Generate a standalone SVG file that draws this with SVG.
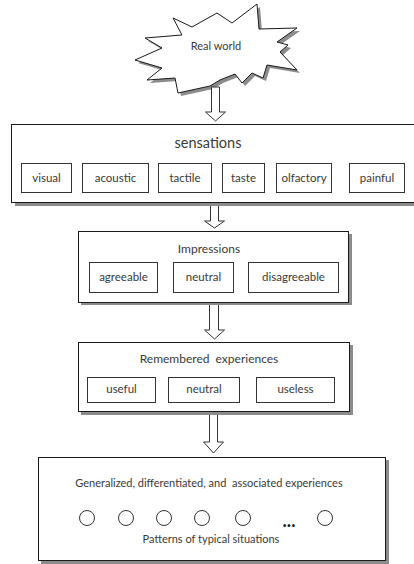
<svg xmlns="http://www.w3.org/2000/svg" width="414" height="564" viewBox="0 0 414 564">
  <defs>
    <style>
      .frame { fill: #ffffff; stroke: #1a1a1a; stroke-width: 1; }
      .shadow { fill: #8c8c8c; stroke: none; }
      .item { fill: #ffffff; stroke: #333333; stroke-width: 1; }
      .arrow { fill: #ffffff; stroke: #333333; stroke-width: 1; }
      .ring { fill: #ffffff; stroke: #333333; stroke-width: 1; }
      text { font-family: Lato, "Liberation Sans", sans-serif; fill: #3a3a3a; text-anchor: middle; white-space: pre; }
      .title { font-size: 14.5px; }
      .head { font-size: 12px; }
      .label { font-size: 11.5px; }
      .small { font-size: 11px; }
      .dots { font-size: 18px; font-weight: bold; fill: #222222; }
    </style>
    <polygon id="burst" points="257,4 259,29 297,28 277,42 288,45 280,52 297,70 267,65 263,78 252,73 242,83 235,74 220,80 210,86 178,93 175,78 147,80 162,68 135,60 162,48 145,38 182,35 173,18 192,27 217,13 232,23"/>
  </defs>

  <!-- source: explosion shape -->
  <g id="real-world">
    <use href="#burst" class="shadow" transform="translate(3,3)"/>
    <use href="#burst" fill="#ffffff" stroke="#1a1a1a" stroke-width="1"/>
    <text class="small" x="216" y="50">Real world</text>
  </g>

  <!-- block arrows between stages -->
  <g id="connectors">
    <polygon class="arrow" points="211.5,87 219.5,87 219.5,112 225.5,112 215.5,121 205.5,112 211.5,112"/>
    <polygon class="arrow" points="210.5,204 218.5,204 218.5,221 224.5,221 214.5,228 204.5,221 210.5,221"/>
    <polygon class="arrow" points="209.5,304 218.5,304 218.5,330 224.5,330 214.5,339 204.5,330 209.5,330"/>
    <polygon class="arrow" points="209.5,414 217.5,414 217.5,442 223.5,442 213.5,453 203.5,442 209.5,442"/>
  </g>

  <g id="sensations">
    <rect class="shadow" x="15" y="127" width="410" height="79"/>
    <rect class="frame" x="11.5" y="124.5" width="410" height="78"/>
    <text class="title" x="208" y="148">sensations</text>
    <rect class="item" x="21.5" y="163.5" width="50" height="29"/>
    <text class="label" x="46.5" y="182">visual</text>
    <rect class="item" x="82.5" y="163.5" width="66" height="29"/>
    <text class="label" x="115.5" y="182">acoustic</text>
    <rect class="item" x="158.5" y="163.5" width="53" height="29"/>
    <text class="label" x="185" y="182">tactile</text>
    <rect class="item" x="222.5" y="163.5" width="42" height="29"/>
    <text class="label" x="243.5" y="182">taste</text>
    <rect class="item" x="276.5" y="163.5" width="55" height="29"/>
    <text class="label" x="304" y="182">olfactory</text>
    <rect class="item" x="349.5" y="163.5" width="55" height="29"/>
    <text class="label" x="377" y="182">painful</text>
  </g>

  <g id="impressions">
    <rect class="shadow" x="81" y="234" width="271" height="71"/>
    <rect class="frame" x="78.5" y="231.5" width="270" height="71"/>
    <text class="head" x="209" y="253">Impressions</text>
    <rect class="item" x="89.5" y="262.5" width="68" height="30"/>
    <text class="label" x="123.5" y="281">agreeable</text>
    <rect class="item" x="173.5" y="262.5" width="60" height="30"/>
    <text class="label" x="203.5" y="281">neutral</text>
    <rect class="item" x="248.5" y="262.5" width="90" height="30"/>
    <text class="label" x="293.5" y="281">disagreeable</text>
  </g>

  <g id="remembered">
    <rect class="shadow" x="81" y="345" width="272" height="70"/>
    <rect class="frame" x="78.5" y="342.5" width="271" height="69"/>
    <text class="head" x="209" y="363" xml:space="preserve">Remembered  experiences</text>
    <rect class="item" x="87.5" y="377.5" width="68" height="25"/>
    <text class="label" x="121.5" y="393">useful</text>
    <rect class="item" x="168.5" y="377.5" width="71" height="25"/>
    <text class="label" x="204" y="393">neutral</text>
    <rect class="item" x="256.5" y="377.5" width="78" height="25"/>
    <text class="label" x="295.5" y="393">useless</text>
  </g>

  <g id="generalized">
    <rect class="shadow" x="41" y="460" width="348" height="104"/>
    <rect class="frame" x="38.5" y="457.5" width="347" height="103"/>
    <text class="small" x="209" y="487" xml:space="preserve">Generalized, differentiated, and  associated experiences</text>
    <circle class="ring" cx="87" cy="518" r="7.5"/>
    <circle class="ring" cx="126" cy="518" r="7.5"/>
    <circle class="ring" cx="164" cy="518" r="7.5"/>
    <circle class="ring" cx="202" cy="518" r="7.5"/>
    <circle class="ring" cx="243" cy="518" r="7.5"/>
    <text class="dots" x="289" y="527">...</text>
    <circle class="ring" cx="325" cy="518" r="7.5"/>
    <text class="small" x="211" y="543">Patterns of typical situations</text>
  </g>
</svg>
